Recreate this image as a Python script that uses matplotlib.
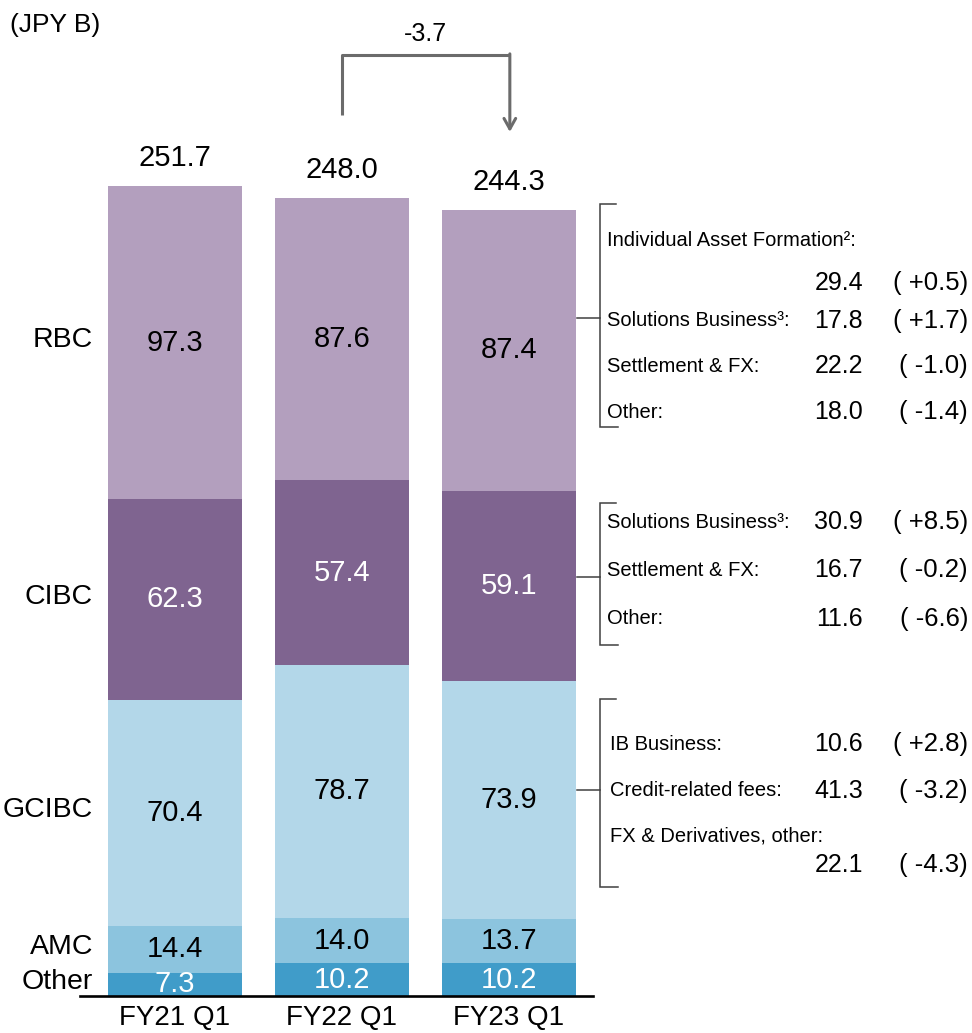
import matplotlib
matplotlib.use("Agg")
import matplotlib.pyplot as plt
import numpy as np

plt.rcParams['font.family'] = ['Liberation Sans', 'DejaVu Sans']

# ---- data (JPY B) ----
periods = ["FY21 Q1", "FY22 Q1", "FY23 Q1"]
segments = ["Other", "AMC", "GCIBC", "CIBC", "RBC"]
other = [7.3, 10.2, 10.2]
amc = [14.4, 14.0, 13.7]
gcibc = [70.4, 78.7, 73.9]
cibc = [62.3, 57.4, 59.1]
rbc = [97.3, 87.6, 87.4]
totals = [251.7, 248.0, 244.3]

colors = ["#409cc9", "#8cc4de", "#b3d7e9", "#7f6490", "#b39fbe"]
text_colors = ["white", "black", "black", "white", "black"]

# breakdown of FY23 Q1 (value, change vs FY22 Q1)
rbc_items = ["Individual Asset Formation\u00b2:", "Solutions Business\u00b3:", "Settlement & FX:", "Other:"]
rbc_vals = [29.4, 17.8, 22.2, 18.0]
rbc_chg = [0.5, 1.7, -1.0, -1.4]
cibc_items = ["Solutions Business\u00b3:", "Settlement & FX:", "Other:"]
cibc_vals = [30.9, 16.7, 11.6]
cibc_chg = [8.5, -0.2, -6.6]
gcibc_items = ["IB Business:", "Credit-related fees:", "FX & Derivatives, other:"]
gcibc_vals = [10.6, 41.3, 22.1]
gcibc_chg = [2.8, -3.2, -4.3]

W, H = 972, 1033
fig = plt.figure(figsize=(W / 100, H / 100), dpi=100)

# bar axes: baseline at 996 px, 3.218 px per JPY B
base_px, scale = 996, 3.218
x_left_px, x_right_px, c0, step = 80, 593, 175, 167
ax = fig.add_axes([x_left_px / W, (H - base_px) / H, (x_right_px - x_left_px) / W, base_px / H])
ax.set_xlim(-(c0 - x_left_px) / step, (x_right_px - c0) / step)
ax.set_ylim(0, base_px / scale)
for s in ["top", "right", "left"]:
    ax.spines[s].set_visible(False)
ax.spines["bottom"].set_linewidth(1.9)
ax.spines["bottom"].set_color("black")
ax.set_yticks([])
x = np.arange(len(periods))
ax.set_xticks(x)
ax.set_xticklabels(periods, fontsize=20)
ax.tick_params(axis="x", length=0, pad=6.5)

stack = [other, amc, gcibc, cibc, rbc]
bottom = np.zeros(len(periods))
mids_fy21 = []
for vals, col, tcol in zip(stack, colors, text_colors):
    vals = np.array(vals)
    ax.bar(x, vals, bottom=bottom, width=0.8, color=col, linewidth=0)
    for xi, v, b in zip(x, vals, bottom):
        ax.text(xi, b + v / 2, f"{v:.1f}", ha="center", va="center",
                fontsize=21, color=tcol)
    mids_fy21.append(bottom[0] + vals[0] / 2)
    bottom = bottom + vals

for xi, t in zip(x, totals):
    ax.annotate(f"{t:.1f}", (xi, t), xytext=(0, 20), textcoords="offset points",
                ha="center", va="center", fontsize=21)

# segment names beside the first bar
name_x = -(c0 - 93) / step
for name, m in zip(segments, mids_fy21):
    ax.text(name_x, m + 0.8, name, ha="right", va="center", fontsize=20.5)

# change between FY22 Q1 and FY23 Q1
diff = totals[2] - totals[1]
arrow_col = "#6b6b6b"
top_y = (base_px - 55) / scale
ax.plot([1, 1, 2.005], [totals[1] + 25.8, top_y, top_y], color=arrow_col, lw=2.2,
        solid_capstyle="butt", clip_on=False)
ax.annotate("", xy=(2.005, totals[2] + 24.2), xytext=(2.005, top_y + 0.35),
            arrowprops=dict(arrowstyle="->,head_length=0.75,head_width=0.42",
                            color=arrow_col, lw=2.2, shrinkA=0, shrinkB=0),
            annotation_clip=False)
ax.text(1.5, (base_px - 34) / scale, f"{diff:.1f}", ha="center", va="center",
        fontsize=18, clip_on=False)

# overlay in pixel coordinates for unit label and breakdown notes
ov = fig.add_axes([0, 0, 1, 1], zorder=5)
ov.set_xlim(0, W)
ov.set_ylim(H, 0)
ov.axis("off")
ov.patch.set_alpha(0)

ov.text(10, 25, "(JPY B)", ha="left", va="center", fontsize=19)

bracket_col = "#404040"


def bracket(y0, y1, ymid):
    ov.plot([616, 600, 600, 618], [y0, y0, y1, y1], color=bracket_col, lw=1.1,
            solid_joinstyle="miter")
    ov.plot([577, 600], [ymid, ymid], color=bracket_col, lw=1.1)


def fmt_chg(c):
    return f"( {c:+.1f})" if c > 0 else f"( {c:.1f})"


label_fs, num_fs, chg_fs = 14.5, 18, 18.5
num_x, chg_x = 863, 968

# RBC
bracket(204, 427, 318)
ov.text(607, 240, rbc_items[0], ha="left", va="center", fontsize=label_fs)
rows_y = [283, 321, 366, 412]
for i, yy in enumerate(rows_y):
    if i > 0:
        ov.text(607, yy, rbc_items[i], ha="left", va="center", fontsize=label_fs)
    ov.text(num_x, yy, f"{rbc_vals[i]:.1f}", ha="right", va="center", fontsize=num_fs)
    ov.text(chg_x, yy, fmt_chg(rbc_chg[i]), ha="right", va="center", fontsize=chg_fs)

# CIBC
bracket(503, 645, 577)
for i, yy in enumerate([522, 570, 619]):
    ov.text(607, yy, cibc_items[i], ha="left", va="center", fontsize=label_fs)
    ov.text(num_x, yy, f"{cibc_vals[i]:.1f}", ha="right", va="center", fontsize=num_fs)
    ov.text(chg_x, yy, fmt_chg(cibc_chg[i]), ha="right", va="center", fontsize=chg_fs)

# GCIBC
bracket(699, 887, 790)
label_y = [744, 791, 836]
value_y = [744, 791, 865]
for i in range(3):
    ov.text(610, label_y[i], gcibc_items[i], ha="left", va="center", fontsize=label_fs)
    ov.text(num_x, value_y[i], f"{gcibc_vals[i]:.1f}", ha="right", va="center", fontsize=num_fs)
    ov.text(chg_x, value_y[i], fmt_chg(gcibc_chg[i]), ha="right", va="center", fontsize=chg_fs)

fig.savefig("out.png", dpi=100)
